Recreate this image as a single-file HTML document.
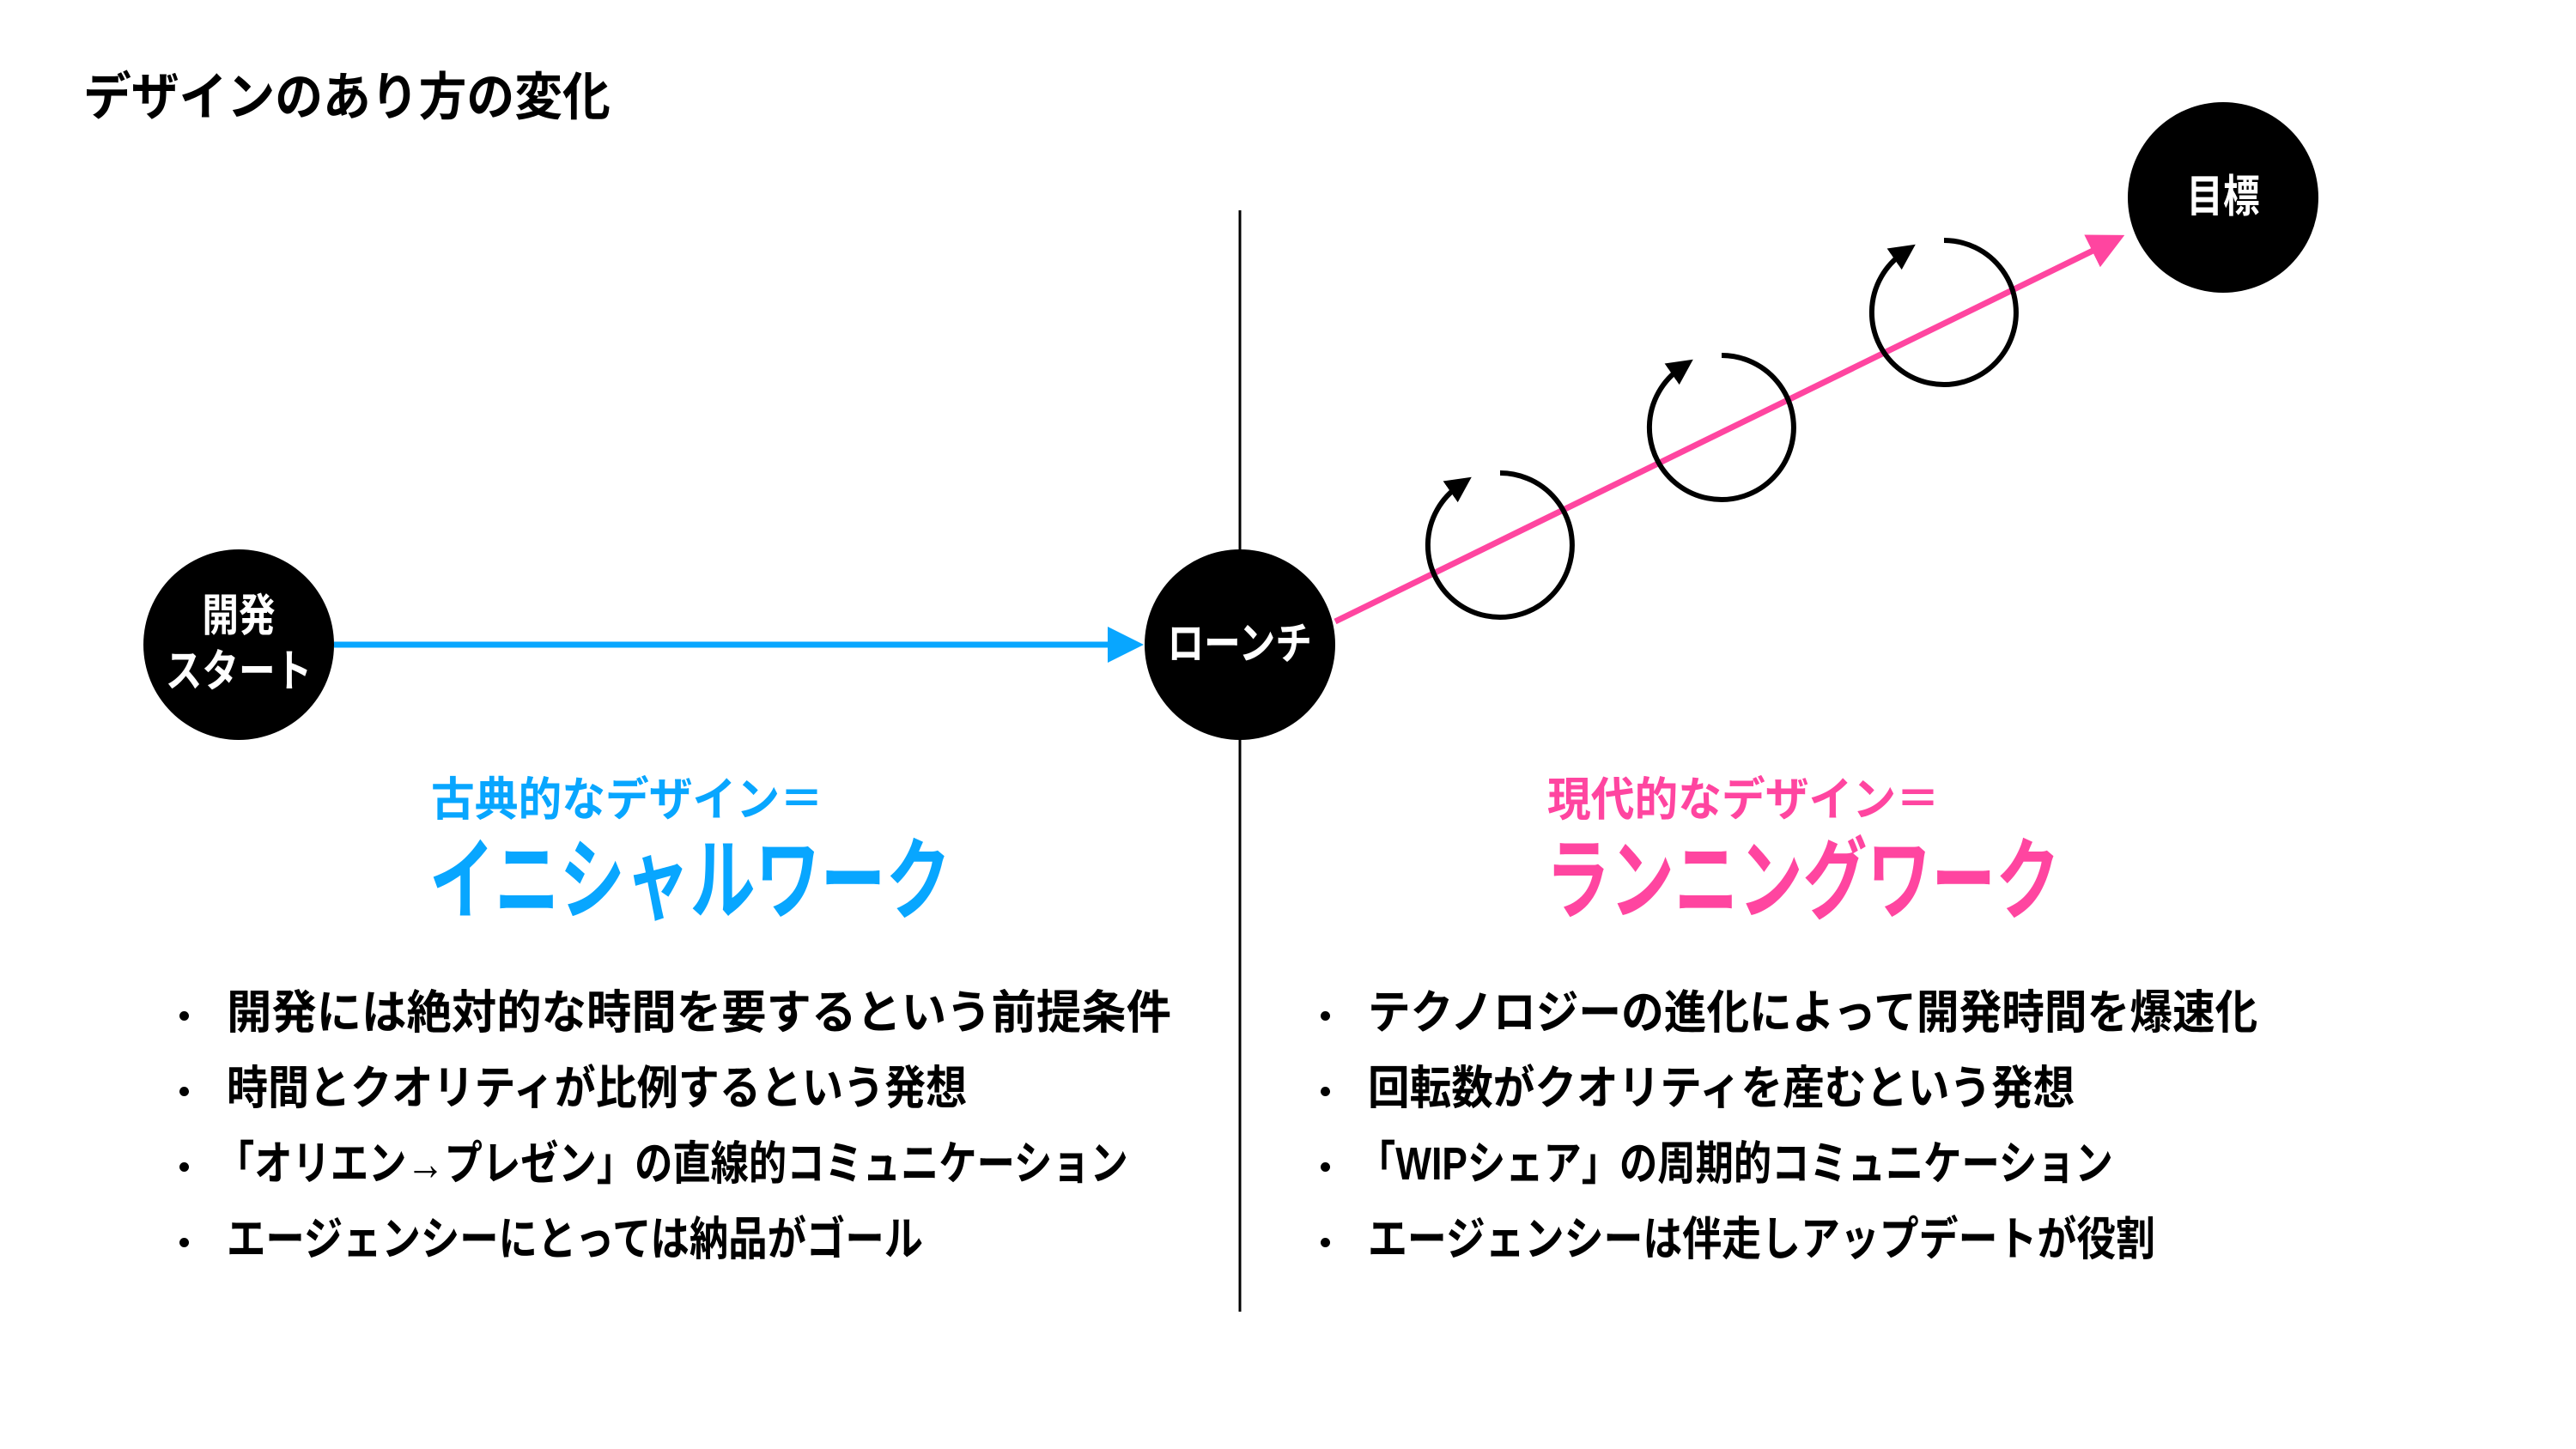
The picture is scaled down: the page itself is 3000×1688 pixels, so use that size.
<!DOCTYPE html>
<html><head><meta charset="utf-8"><style>
html,body{margin:0;padding:0;background:#fff}
body{width:3000px;height:1688px;position:relative;overflow:hidden;font-family:"Liberation Sans","Noto Sans CJK JP",sans-serif;font-weight:bold;color:#000}
.t{position:absolute;white-space:nowrap;line-height:1;transform-origin:left top}
.c{position:absolute;border-radius:50%;background:#000;color:#fff;display:flex;align-items:center;justify-content:center;text-align:center;font-size:52px;line-height:1.25}
.c span{display:inline-block;transform:scaleX(.82)}
ul{position:absolute;margin:0;padding:0;list-style:none;font-size:54px}
li{height:88px;line-height:88px;position:relative;padding-left:60px;white-space:nowrap}
li span{display:inline-block;transform-origin:left center}
li:before{content:"";position:absolute;left:5px;top:42px;width:11px;height:11px;border-radius:50%;background:#000}
</style></head><body>
<div class="t" style="left:97px;top:84px;font-size:60px;transform:scaleX(.93)">デザインのあり方の変化</div>
<svg width="3000" height="1688" style="position:absolute;left:0;top:0">
<defs>
<marker id="ab" markerWidth="6" markerHeight="6" refX="5" refY="3" orient="auto" markerUnits="strokeWidth"><path d="M0,0L6,3L0,6z" fill="#08a6ff"/></marker>
<marker id="ap" markerWidth="6" markerHeight="6" refX="5" refY="3" orient="auto" markerUnits="strokeWidth"><path d="M0,0L6,3L0,6z" fill="#ff45a0"/></marker>
<marker id="ak" markerWidth="5" markerHeight="5" refX="2" refY="2.5" orient="auto" markerUnits="strokeWidth"><path d="M0,0L5,2.5L0,5z" fill="#000"/></marker>
</defs>
<line x1="1444" y1="245" x2="1444" y2="1528" stroke="#000" stroke-width="3"/>
<line x1="389" y1="751" x2="1325" y2="751" stroke="#08a6ff" stroke-width="7" marker-end="url(#ab)"/>
<line x1="1555" y1="724" x2="2468" y2="277" stroke="#ff45a0" stroke-width="7" marker-end="url(#ap)"/>
<g fill="none" stroke="#000" stroke-width="6">
<path d="M1747,551 A84,84 0 1 1 1699,566" marker-end="url(#ak)"/>
<path d="M2005,414 A84,84 0 1 1 1957,429" marker-end="url(#ak)"/>
<path d="M2264,280 A84,84 0 1 1 2216,295" marker-end="url(#ak)"/>
</g>
</svg>
<div class="c" style="left:167px;top:640px;width:222px;height:222px"><span>開発<br>スタート</span></div>
<div class="c" style="left:1333px;top:640px;width:222px;height:222px"><span>ローンチ</span></div>
<div class="c" style="left:2478px;top:119px;width:222px;height:222px"><span>目標</span></div>
<div class="t" style="left:502px;top:905px;font-size:54px;color:#08a6ff;transform:scaleX(.94)">古典的なデザイン＝</div>
<div class="t" style="left:500px;top:975px;font-size:104px;color:#08a6ff;transform:scaleX(.73)">イニシャルワーク</div>
<div class="t" style="left:1802px;top:905px;font-size:54px;color:#ff45a0;transform:scaleX(.94)">現代的なデザイン＝</div>
<div class="t" style="left:1800px;top:975px;font-size:104px;color:#ff45a0;transform:scaleX(.72)">ランニングワーク</div>
<ul style="left:204px;top:1136px">
<li><span style="transform:scaleX(.97)">開発には絶対的な時間を要するという前提条件</span></li>
<li><span style="transform:scaleX(.89)">時間とクオリティが比例するという発想</span></li>
<li><span style="transform:scaleX(.82);margin-left:-12px">「オリエン→プレゼン」の直線的コミュニケーション</span></li>
<li><span style="transform:scaleX(.84)">エージェンシーにとっては納品がゴール</span></li>
</ul>
<ul style="left:1533px;top:1136px">
<li><span style="transform:scaleX(.92)">テクノロジーの進化によって開発時間を爆速化</span></li>
<li><span style="transform:scaleX(.90)">回転数がクオリティを産むという発想</span></li>
<li><span style="transform:scaleX(.82);margin-left:-12px">「WIPシェア」の周期的コミュニケーション</span></li>
<li><span style="transform:scaleX(.85)">エージェンシーは伴走しアップデートが役割</span></li>
</ul>
</body></html>
